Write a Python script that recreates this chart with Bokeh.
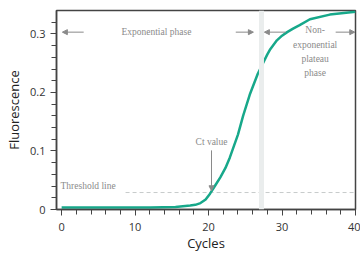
from bokeh.plotting import figure
from bokeh.models import (ColumnDataSource, Arrow, NormalHead, Span, FixedTicker,
                          Label, Range1d)
from bokeh.embed import file_html
from bokeh.resources import INLINE

# amplification curve (cycles vs fluorescence)
cycles = [0, 5.3, 12.1, 15.5, 17.5, 18.2, 18.9, 19.6, 20.2, 20.9, 21.6, 22.3,
          22.9, 24.0, 24.7, 25.6, 26.7, 28.0, 28.4, 29.3, 30.0, 30.7, 31.5,
          32.4, 33.8, 36.5, 40]
fluor = [0.0034, 0.0034, 0.0034, 0.0043, 0.0068, 0.0080, 0.011, 0.017, 0.027,
         0.041, 0.055, 0.071, 0.089, 0.128, 0.160, 0.196, 0.232, 0.265, 0.274,
         0.289, 0.297, 0.303, 0.309, 0.315, 0.325, 0.333, 0.338]

x_ticks = [0, 10, 20, 30, 40]
y_ticks = [0, 0.1, 0.2, 0.3]
threshold = 0.029
phase_boundary = 27.2
ct_cycle = 20.4

p = figure(width=360, height=258, output_backend="svg", toolbar_location=None,
           x_range=Range1d(-0.7, 40), y_range=Range1d(0, 0.34),
           min_border_left=56, min_border_right=5, min_border_top=10,
           min_border_bottom=49)

p.xgrid.grid_line_color = None
p.ygrid.grid_line_color = None
p.outline_line_color = "#444444"
p.outline_line_width = 1.5
p.background_fill_color = "white"

p.xaxis.ticker = FixedTicker(ticks=x_ticks, minor_ticks=list(range(0, 41, 2)))
p.yaxis.ticker = FixedTicker(ticks=y_ticks,
                             minor_ticks=[round(i * 0.02, 2) for i in range(0, 17)])
p.yaxis.major_label_overrides = {0: "0"}
p.xaxis.axis_label = "Cycles"
p.yaxis.axis_label = "Fluorescence"
for ax in (p.xaxis[0], p.yaxis[0]):
    ax.axis_line_color = "#444444"
    ax.axis_line_width = 1.5
    ax.major_tick_line_color = "#444444"
    ax.minor_tick_line_color = "#444444"
    ax.major_tick_in = 0
    ax.minor_tick_in = 0
    ax.major_tick_out = 6
    ax.minor_tick_out = 5
    ax.major_label_text_font = "Open Sans"
    ax.major_label_text_font_size = "11px"
    ax.major_label_text_color = "#333333"
    ax.axis_label_text_font = "Open Sans"
    ax.axis_label_text_font_size = "13px"
    ax.axis_label_text_font_style = "normal"
    ax.axis_label_text_color = "#222222"
p.xaxis.axis_label_standoff = 0
p.xaxis.major_label_standoff = 7
p.yaxis.axis_label_standoff = 4
p.yaxis.major_label_standoff = 5

# phase boundary (faint band) and threshold line
p.add_layout(Span(location=phase_boundary, dimension="height",
                  line_color="#eaeded", line_width=5))
p.segment(x0=[8.7], y0=[threshold], x1=[40], y1=[threshold],
          line_color="#c8cccc", line_width=1, line_dash="4 3")

src = ColumnDataSource(data=dict(x=cycles, y=fluor))
p.line("x", "y", source=src, line_color="#17a88a", line_width=2.5,
       line_join="round")

gray = "#8a8a8a"
def arrow(x0, y0, x1, y1):
    p.add_layout(Arrow(end=NormalHead(size=5, fill_color=gray, line_color=gray),
                       x_start=x0, y_start=y0, x_end=x1, y_end=y1,
                       line_color=gray, line_width=1))

def label(x, y, t, align="center"):
    p.add_layout(Label(x=x, y=y, text=t, text_font="Liberation Serif",
                       text_font_size="9.5px", text_color="#8a8a8a",
                       text_align=align, text_baseline="middle"))

label(12.9, 0.303, "Exponential phase")
arrow(3.0, 0.303, 0.1, 0.303)
arrow(23.7, 0.303, 26.1, 0.303)

label(34.5, 0.306, "Non-")
label(34.5, 0.281, "exponential")
label(34.5, 0.257, "plateau")
label(34.5, 0.233, "phase")
arrow(30.5, 0.303, 27.6, 0.303)
arrow(37.3, 0.303, 39.9, 0.303)

label(ct_cycle, 0.115, "Ct value")
arrow(ct_cycle, 0.101, ct_cycle, 0.032)

label(-0.15, 0.041, "Threshold line", align="left")

open("out.html", "w").write(file_html(p, INLINE))
